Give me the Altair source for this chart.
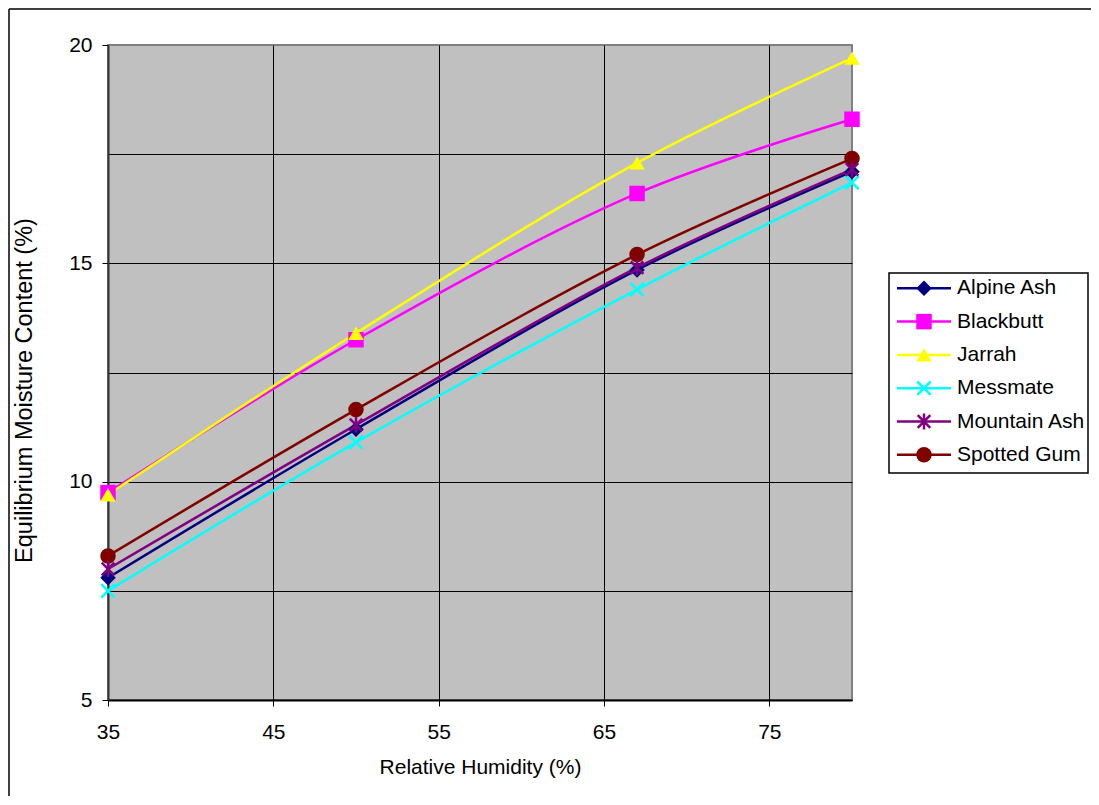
import altair as alt
import pandas as pd

# ---- data ----
rh = [35, 50, 67, 80]
species = ["Alpine Ash", "Blackbutt", "Jarrah", "Messmate", "Mountain Ash", "Spotted Gum"]
alpine_ash = [7.8, 11.2, 14.85, 17.1]
blackbutt = [9.75, 13.25, 16.6, 18.3]
jarrah = [9.7, 13.4, 17.3, 19.7]
messmate = [7.5, 10.9, 14.4, 16.85]
mountain_ash = [8.0, 11.3, 14.9, 17.15]
spotted_gum = [8.3, 11.65, 15.2, 17.4]

x_ticks = [35, 45, 55, 65, 75]
y_grid = [5, 7.5, 10, 12.5, 15, 17.5, 20]

colors = ["#000080", "#FF00FF", "#FFFF00", "#00FFFF", "#800080", "#800000"]
X_PATH = "M-0.8,-0.8L0.8,0.8M-0.8,0.8L0.8,-0.8"
AST_PATH = "M-0.75,-0.75L0.75,0.75M-0.75,0.75L0.75,-0.75M0,-0.95L0,0.95"
shapes = ["diamond", "square", "triangle-up", X_PATH, AST_PATH, "circle"]
filled_flags = [True, True, True, False, False, True]

series = [alpine_ash, blackbutt, jarrah, messmate, mountain_ash, spotted_gum]
rows = []
for name, vals in zip(species, series):
    for x, y in zip(rh, vals):
        rows.append({"species": name, "rh": x, "emc": y})
df = pd.DataFrame(rows)

W, H = 744, 655
PAD = {"left": 100, "top": 37, "right": 239, "bottom": 96}
FONT = "Liberation Sans"
FILLED_SIZE = 240
STROKED_SIZE = 280

color_scale = alt.Scale(domain=species, range=colors)
shape_scale = alt.Scale(domain=species, range=shapes)

x_enc = alt.X(
    "rh:Q",
    scale=alt.Scale(domain=[35, 80], nice=False, zero=False),
    axis=alt.Axis(
        values=x_ticks,
        title="Relative Humidity (%)",
        grid=True,
        gridColor="#000000",
        gridWidth=1,
        domainColor="#000000",
        domainWidth=2,
        tickColor="#000000",
        tickSize=6,
        tickWidth=1,
        labelFont=FONT,
        labelFontSize=21,
        labelColor="#000000",
        labelBaseline="alphabetic",
        labelPadding=32,
        labelFlush=False,
        titleFont=FONT,
        titleFontSize=21,
        titleFontWeight="normal",
        titleColor="#000000",
        titleBaseline="alphabetic",
        titleY=73,
    ),
)
y_enc = alt.Y(
    "emc:Q",
    scale=alt.Scale(domain=[5, 20], nice=False, zero=False),
    axis=alt.Axis(
        values=y_grid,
        title="Equilibrium Moisture Content (%)",
        labelExpr="datum.value % 5 == 0 ? datum.label : ''",
        grid=True,
        gridColor="#000000",
        gridWidth=1,
        gridOpacity={"condition": {"test": "datum.value == 20", "value": 0}, "value": 1},
        tickOpacity={"condition": {"test": "datum.value % 5 == 0", "value": 1}, "value": 0},
        domainColor="#333333",
        domainWidth=2,
        tickColor="#000000",
        tickSize=6,
        tickWidth=1,
        labelFont=FONT,
        labelFontSize=21,
        labelColor="#000000",
        labelPadding=10,
        labelFlush=False,
        titleFont=FONT,
        titleFontSize=23.5,
        titleFontWeight="normal",
        titleColor="#000000",
        titleX=-72,
        titleY=345,
    ),
)

base = alt.Chart(df)

lines = base.mark_line(interpolate="catmull-rom", strokeWidth=2.5).encode(
    x=x_enc,
    y=y_enc,
    color=alt.Color("species:N", scale=color_scale, legend=None),
    detail="species:N",
)

filled_names = [s for s, f in zip(species, filled_flags) if f]
stroked_names = [s for s, f in zip(species, filled_flags) if not f]

pts_filled = base.transform_filter(
    alt.FieldOneOfPredicate(field="species", oneOf=filled_names)
).mark_point(filled=True, size=FILLED_SIZE, opacity=1).encode(
    x="rh:Q",
    y="emc:Q",
    color=alt.Color("species:N", scale=color_scale, legend=None),
    shape=alt.Shape("species:N", scale=shape_scale, legend=None),
)
pts_stroked = base.transform_filter(
    alt.FieldOneOfPredicate(field="species", oneOf=stroked_names)
).mark_point(filled=False, size=STROKED_SIZE, strokeWidth=2.5, opacity=1).encode(
    x="rh:Q",
    y="emc:Q",
    color=alt.Color("species:N", scale=color_scale, legend=None),
    shape=alt.Shape("species:N", scale=shape_scale, legend=None),
)

# ---- manual legend (Excel style: line through marker) ----
one = pd.DataFrame({"k": [0]})
legend_layers = [
    alt.Chart(one).mark_rect(fill="white", stroke="#000000", strokeWidth=1.5).encode(
        x=alt.value(781), x2=alt.value(W + PAD["right"] - 3), y=alt.value(228), y2=alt.value(428)
    )
]
for i, (name, col, shp, fl) in enumerate(zip(species, colors, shapes, filled_flags)):
    ly = 243.3 + i * 33.3
    d = pd.DataFrame({"species": [name]})
    legend_layers.append(
        alt.Chart(d).mark_rule(color=col, strokeWidth=2.5).encode(
            x=alt.value(789), x2=alt.value(843), y=alt.value(ly)
        )
    )
    if fl:
        mk = alt.Chart(d).mark_point(filled=True, size=FILLED_SIZE, shape=shp, color=col, opacity=1)
    else:
        mk = alt.Chart(d).mark_point(filled=False, size=STROKED_SIZE, shape=shp, color=col,
                                      strokeWidth=2.5, opacity=1)
    legend_layers.append(mk.encode(x=alt.value(816), y=alt.value(ly)))
    legend_layers.append(
        alt.Chart(d).mark_text(align="left", baseline="middle", font=FONT, fontSize=21,
                               color="#000000").encode(
            x=alt.value(849), y=alt.value(ly), text="species:N"
        )
    )

# outer chart border (left and top edges visible in the reference)
border = [
    alt.Chart(one).mark_rule(color="#000000", strokeWidth=1.5).encode(
        x=alt.value(-99), y=alt.value(-36), y2=alt.value(H + PAD["bottom"])
    ),
    alt.Chart(one).mark_rule(color="#000000", strokeWidth=1.5).encode(
        x=alt.value(-99), x2=alt.value(W + PAD["right"]), y=alt.value(-36)
    ),
]

chart = alt.layer(lines, pts_filled, pts_stroked, *legend_layers, *border).properties(
    width=W,
    height=H,
    background="white",
    autosize=alt.AutoSizeParams(type="none"),
    padding=PAD,
).configure_view(
    fill="#C0C0C0", stroke="#808080", strokeWidth=2
)

chart.save("out.html", embed_options={"renderer": "svg", "actions": False})
